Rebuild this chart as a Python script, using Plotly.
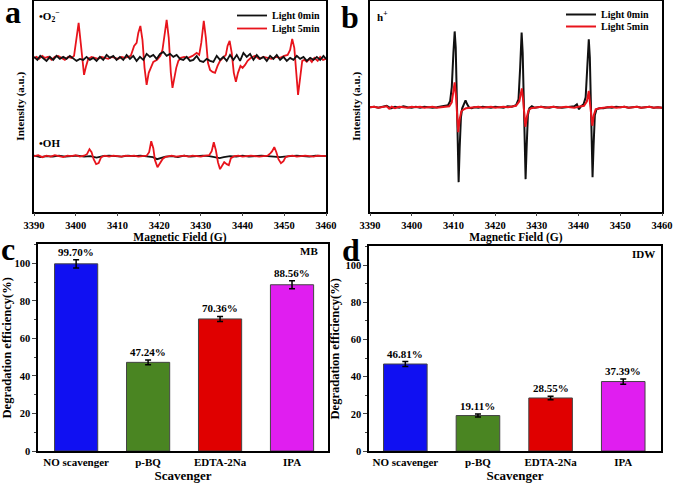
import plotly.graph_objects as go

W, H = 680, 486
FONT = "Liberation Serif"

# ---------------- Panel a: EPR (DMPO-•O2- and DMPO-•OH) ----------------
o2_red_field = [3390.0, 3390.6, 3391.2, 3392.0, 3392.6, 3393.4, 3394.2, 3395.0, 3395.8, 3396.6, 3397.4, 3398.2,
                3399.0, 3399.6, 3400.1, 3400.7, 3401.2, 3401.6, 3402.0, 3402.5, 3403.0, 3403.8, 3404.6, 3405.4,
                3406.2, 3407.0, 3407.8, 3408.6, 3409.4, 3410.2, 3411.0, 3411.8, 3412.5, 3413.2, 3414.0, 3414.6,
                3415.0, 3415.5, 3416.0, 3416.5, 3417.0, 3417.5, 3418.0, 3418.6, 3419.5, 3420.3, 3420.8, 3421.3,
                3421.8, 3422.3, 3422.8, 3423.2, 3423.6, 3424.1, 3424.6, 3425.2, 3426.0, 3427.0, 3428.0, 3429.0,
                3429.6, 3430.1, 3430.7, 3431.2, 3431.7, 3432.2, 3432.8, 3433.4, 3434.0, 3434.6, 3435.3, 3436.0,
                3436.4, 3436.9, 3437.4, 3437.9, 3438.4, 3438.9, 3439.5, 3440.0, 3440.6, 3441.2, 3442.0, 3443.0,
                3444.0, 3445.0, 3446.0, 3447.0, 3448.0, 3449.0, 3450.0, 3450.8, 3451.4, 3451.9, 3452.4, 3452.8,
                3453.3, 3453.8, 3454.3, 3454.8, 3455.4, 3456.0, 3456.6, 3457.2, 3458.0, 3458.6, 3459.3, 3460.0]
o2_red_int = [0, 1, -1, 2, 0, 1, -2, 1, 2, 0, -2, 1,
              0, 2, 18, 35, 15, -5, -17, -8, -1, 1, 0, -1,
              1, 0, -1, 1, 0, -1, 1, 0, 1, 2, 12, 15,
              25, 32, 18, -10, -27, -15, -10, -4, -2, 2, 8, 25,
              38, 20, -15, -30, -20, -10, -3, 0, 1, 0, 2, 5,
              3, 15, 37, 20, -5, -12, -14, -15, -8, -3, 0, 3,
              12, 17, 5, -15, -24, -15, -8, -10, -7, -3, 0, 2,
              -1, 1, 0, -1, 1, 0, 2, 3, 8, 19, 10, -15,
              -37, -20, -3, -2, -4, -1, -4, 0, -3, 1, -2, -1]

o2_black_field = [3390.0, 3390.8, 3391.5, 3392.3, 3393.0, 3393.8, 3394.6, 3395.4, 3396.2, 3397.0, 3397.8, 3398.6,
                  3399.4, 3400.2, 3401.0, 3401.8, 3402.6, 3403.4, 3404.2, 3405.0, 3405.8, 3406.6, 3407.4, 3408.2,
                  3409.0, 3409.8, 3410.6, 3411.4, 3412.2, 3413.0, 3413.8, 3414.6, 3415.4, 3416.2, 3417.0, 3417.8,
                  3418.6, 3419.4, 3420.2, 3421.0, 3421.8, 3422.6, 3423.4, 3424.2, 3425.0, 3425.8, 3426.6, 3427.4,
                  3428.2, 3429.0, 3429.8, 3430.6, 3431.4, 3432.2, 3433.0, 3433.8, 3434.6, 3435.4, 3436.2, 3437.0,
                  3437.8, 3438.6, 3439.4, 3440.2, 3441.0, 3441.8, 3442.6, 3443.4, 3444.2, 3445.0, 3445.8, 3446.6,
                  3447.4, 3448.2, 3449.0, 3449.8, 3450.6, 3451.4, 3452.2, 3453.0, 3453.8, 3454.6, 3455.4, 3456.2,
                  3457.0, 3457.8, 3458.6, 3459.4, 3460.0]
o2_black_int = [1, -2, 2, -1, -3, 1, -2, 2, -1, 1, -1, 2,
                -1, -3, -1, -2, 1, -2, 0, -3, 1, -2, 3, 0,
                2, -2, 1, -2, 3, -1, 2, -3, 1, -2, 4, 1,
                3, -1, 4, 6, 2, 4, 1, 3, -1, -2, 1, -3,
                -2, 2, -3, -4, -1, -3, -4, 2, -2, 1, -3, 3,
                -2, 3, -3, 5, 1, 4, -2, 3, -1, 1, -3, 2,
                -1, 3, -2, 1, -3, 0, -2, 2, -1, 1, -3, 0,
                -2, 1, -2, 2, -1]

oh_red_field = [3390, 3391, 3392, 3393, 3394, 3395, 3396, 3397, 3398, 3399, 3400, 3401, 3402, 3402.7, 3403.3,
                3403.8, 3404.3, 3404.9, 3405.5, 3406.1, 3407, 3408, 3409, 3410, 3411, 3412, 3413, 3414, 3415,
                3416, 3417, 3417.6, 3418.1, 3418.6, 3419.0, 3419.6, 3420.2, 3420.8, 3421.4, 3422.2, 3423, 3424,
                3425, 3426, 3427, 3428, 3429, 3430, 3431, 3432, 3432.6, 3433.1, 3433.6, 3434.1, 3434.6, 3435.1,
                3435.6, 3436.2, 3436.7, 3437.2, 3438, 3439, 3440, 3441, 3442, 3443, 3444, 3445, 3446, 3446.7,
                3447.1, 3447.6, 3448.1, 3448.6, 3449.2, 3449.8, 3450.3, 3451, 3452, 3453, 3454, 3455, 3456, 3457,
                3458, 3459, 3460]
oh_red_int = [0, 1, -1, 0.5, -0.5, 1, 0, -1, 0.5, 0, 1, -0.5, 0.5, 2, 7,
              4, -3, -8, -7, -1, 0.5, -0.5, 0.5, 0, -0.5, 0.5, 0, 0.5, -0.5,
              0, 0.5, 4, 15, 8, -4, -11, -7, -3, -1, 0, 0.5, -0.5,
              0, 0.5, -0.5, 0.5, 0, -0.5, 0.5, 1, 5, 14, 6, -6, -13, -9,
              -6, -8, -9, -2, 0, 0.5, -0.5, 0, 0.5, 0, -0.5, 0, 0.5, 3,
              5, 9, 4, -3, -7, -5, -1, 0, 0.5, -0.5, 0, 0.5, 0, -0.5,
              0.5, 0, 0]

oh_black_field = [3390, 3391.5, 3393, 3394.5, 3396, 3397.5, 3399, 3400.5, 3402, 3403.5, 3405, 3406.5, 3408,
                  3409.5, 3411, 3412.5, 3414, 3415.5, 3417, 3418.5, 3419.5, 3420.5, 3421.5, 3423, 3424.5, 3426,
                  3427.5, 3429, 3430.5, 3432, 3433.5, 3434.5, 3435.5, 3437, 3438.5, 3440, 3441.5, 3443, 3444.5,
                  3446, 3447.5, 3449, 3450, 3451.5, 3453, 3454.5, 3456, 3457.5, 3459, 3460]
oh_black_int = [0.5, -1, 0, -0.5, 0.5, -0.5, 0, 0.5, -0.5, 0, -1.5, 0, 0.5,
                0, -0.5, 0.5, 0, 0.5, 0, -1, -3, -2, -0.5, 0, -1, 0.5,
                -0.5, 0, 0.5, 0, -1, -2, -1, 0, -0.5, 0.5, -0.5, 0, 0.5,
                0, -0.5, -1, -0.5, 0, 0.5, 0, -0.5, 0.5, 0, 0]

O2_OFFSET = 154
OH_OFFSET = 55.5

# ---------------- Panel b: EPR (TEMPO, h+) ----------------
h_black_field = [3390, 3391, 3392, 3393, 3394, 3395, 3396, 3397, 3398, 3399, 3400, 3401, 3402, 3403, 3404, 3405,
                 3406, 3407, 3408, 3408.7, 3409.2, 3409.6, 3410.0, 3410.3, 3410.55, 3410.8, 3411.05, 3411.25,
                 3411.5, 3411.8, 3412.1, 3412.5, 3412.9, 3413.3, 3413.8, 3414.4, 3415, 3416, 3417, 3418, 3419,
                 3420, 3421, 3422, 3423, 3424, 3425, 3425.6, 3426.0, 3426.35, 3426.6, 3426.85, 3427.1, 3427.3,
                 3427.55, 3427.85, 3428.2, 3428.8, 3429.5, 3430, 3431, 3432, 3433, 3434, 3435, 3436, 3437, 3438,
                 3439, 3439.6, 3440.1, 3440.6, 3441.2, 3441.7, 3442.1, 3442.45, 3442.7, 3442.95, 3443.15, 3443.35,
                 3443.6, 3443.9, 3444.3, 3445, 3446, 3447, 3448, 3449, 3450, 3451, 3452, 3453, 3454, 3455, 3456,
                 3457, 3458, 3459, 3460]
h_black_int = [0, 0.5, -0.5, 0.5, 1.5, -1, 0.5, -0.5, 1, 0, -0.5, 0.5, -0.5, 0.5, 0, -0.5,
               0, 0.5, 1, 2, 6, 20, 55, 76, 60, 0, -60, -75,
               -40, -10, -1, 3, 7, 3, -0.5, -1, 0, -0.5, 0.5, 0, -0.5,
               0.5, 0, -0.5, 1, 0.5, 2, 8, 40, 75, 55, 0, -55, -72,
               -40, -8, -1, 1, -0.5, 0, 0.5, 0, -0.5, 0.5, 0, -0.5, 0, 0.5,
               1, 3, -2, 1, 3, 10, 40, 68, 50, 0, -50, -70,
               -38, -8, -2, -1, -1, 0, -0.5, 0.5, 0, 0.5, -0.5, 0, 0.5, -0.5, 0,
               0.5, -0.5, 0, -0.5]

h_red_field = [3390, 3391, 3392, 3393, 3394, 3394.6, 3395.2, 3396, 3397, 3398, 3399, 3400, 3401, 3402, 3403,
               3404, 3405, 3406, 3407, 3408, 3409, 3409.6, 3410.0, 3410.3, 3410.6, 3410.85, 3411.15, 3411.5,
               3411.9, 3412.5, 3413, 3414, 3415, 3416, 3417, 3418, 3419, 3420, 3421, 3422, 3423, 3424, 3425,
               3425.8, 3426.1, 3426.4, 3426.7, 3426.95, 3427.25, 3427.6, 3428, 3428.6, 3429.5, 3430, 3431, 3432,
               3433, 3434, 3435, 3436, 3437, 3438, 3439, 3440, 3441.3, 3442.0, 3442.45, 3442.7, 3443.0, 3443.3,
               3443.65, 3444.1, 3445, 3446, 3447, 3448, 3449, 3450, 3451, 3452, 3453, 3454, 3455, 3456, 3457,
               3458, 3459, 3460]
h_red_int = [0, 0.5, -0.5, 0, 1, -1.5, 0.5, -1, 0.5, 0, -0.5, 0.5, 0, 0.5, -0.5,
             0, 0.5, -0.5, 0, 0.5, 1, 5, 15, 25, 12, -10, -25, -12,
             -4, -2, -1, -0.5, 0, 0.5, -0.5, 0, 0.5, -0.5, 0, 0.5, 0, 0.5, 1.5,
             6, 12, 19, 8, -10, -19.5, -10, -3, -1, -0.5, 0, 0.5, -0.5,
             0, 0.5, -0.5, 0, 0.5, 0, -0.5, 0.5, 1.5, 6, 16.5, 6, -10, -18.5,
             -8, -2, -1, -0.5, 0, 0.5, -0.5, 0, 0.5, -0.5, 0, 0.5, -0.5, 0, 0.5,
             -0.5, 0, -0.5]
H_OFFSET = 104.5

# ---------------- Panels c, d: scavenger experiments ----------------
scavengers = ["NO scavenger", "p-BQ", "EDTA-2Na", "IPA"]
bar_colors = ["#1010f2", "#4a8522", "#e00000", "#e01ef0"]
mb_eff = [99.70, 47.24, 70.36, 88.56]
mb_err = [2.2, 1.3, 1.3, 2.1]
idw_eff = [46.81, 19.11, 28.55, 37.39]
idw_err = [1.3, 0.8, 0.9, 1.4]


def px(x):
    return x / W


def py(y):
    return 1 - y / H


fig = go.Figure()

RED = "#e8141c"
BLACK = "#111111"

# panel a traces
fig.add_trace(go.Scatter(x=o2_red_field, y=[v + O2_OFFSET for v in o2_red_int], mode="lines",
                         line=dict(color=RED, width=1.8), name="Light 5min",
                         legend="legend3", xaxis="x", yaxis="y"))
fig.add_trace(go.Scatter(x=o2_black_field, y=[v + O2_OFFSET for v in o2_black_int], mode="lines",
                         line=dict(color=BLACK, width=1.8), name="Light 0min",
                         legend="legend", xaxis="x", yaxis="y"))
fig.add_trace(go.Scatter(x=oh_black_field, y=[v + OH_OFFSET for v in oh_black_int], mode="lines",
                         line=dict(color=BLACK, width=1.8), showlegend=False, xaxis="x", yaxis="y"))
fig.add_trace(go.Scatter(x=oh_red_field, y=[v + OH_OFFSET for v in oh_red_int], mode="lines",
                         line=dict(color=RED, width=1.8), showlegend=False, xaxis="x", yaxis="y"))

# panel b traces
fig.add_trace(go.Scatter(x=h_black_field, y=[v + H_OFFSET for v in h_black_int], mode="lines",
                         line=dict(color=BLACK, width=2), name="Light 0min",
                         legend="legend2", xaxis="x2", yaxis="y2"))
fig.add_trace(go.Scatter(x=h_red_field, y=[v + H_OFFSET for v in h_red_int], mode="lines",
                         line=dict(color=RED, width=2), name="Light 5min",
                         legend="legend4", xaxis="x2", yaxis="y2"))

# panels c, d bars
for vals, errs, xa, ya in [(mb_eff, mb_err, "x3", "y3"), (idw_eff, idw_err, "x4", "y4")]:
    fig.add_trace(go.Bar(x=scavengers, y=vals, width=0.6,
                         marker=dict(color=bar_colors, line=dict(color="#444444", width=1)),
                         error_y=dict(type="data", array=errs, color="black", thickness=1.5, width=3),
                         showlegend=False, xaxis=xa, yaxis=ya))

bold = dict(family=FONT, weight="bold", color="black")

annotations = []
for vals, errs, xa, ya in [(mb_eff, mb_err, "x3", "y3"), (idw_eff, idw_err, "x4", "y4")]:
    for c, v, e in zip(scavengers, vals, errs):
        annotations.append(dict(x=c, y=v + e, xref=xa, yref=ya, text=f"{v:.2f}%", showarrow=False,
                                yanchor="bottom", yshift=0, font=dict(size=11, **bold)))

# panel letters (positioned by glyph location)
for t, x, y in [("a", 13, 11), ("b", 350, 16), ("c", 8, 249), ("d", 351, 250)]:
    annotations.append(dict(x=px(x), y=py(y), xref="paper", yref="paper", text=t, showarrow=False,
                            xanchor="center", yanchor="middle", font=dict(size=32, **bold)))

annotations += [
    dict(x=px(37), y=py(15), xref="paper", yref="paper", text="•O<sub>2</sub><sup>−</sup>", showarrow=False,
         xanchor="left", yanchor="middle", font=dict(size=11, **bold)),
    dict(x=px(37), y=py(142), xref="paper", yref="paper", text="•OH", showarrow=False,
         xanchor="left", yanchor="middle", font=dict(size=11, **bold)),
    dict(x=px(375), y=py(15), xref="paper", yref="paper", text="h<sup>+</sup>", showarrow=False,
         xanchor="left", yanchor="middle", font=dict(size=11, **bold)),
    dict(x=px(320), y=py(251), xref="paper", yref="paper", text="MB", showarrow=False,
         xanchor="right", yanchor="middle", font=dict(size=11, **bold)),
    dict(x=px(657), y=py(254), xref="paper", yref="paper", text="IDW", showarrow=False,
         xanchor="right", yanchor="middle", font=dict(size=11, **bold)),
]

axis_common = dict(showline=True, linecolor="black", linewidth=1.5, mirror=True, showgrid=False,
                   zeroline=False, automargin=False)

field_ticks = [3390, 3400, 3410, 3420, 3430, 3440, 3450, 3460]
eff_ticks = [0, 20, 40, 60, 80, 100]


def legend_at(x, y):
    return dict(x=px(x), y=py(y), xanchor="left", yanchor="top", bgcolor="rgba(0,0,0,0)",
                font=dict(size=10, **bold), itemwidth=30, tracegroupgap=0)


fig.update_layout(
    width=W, height=H, template="none",
    margin=dict(l=0, r=0, t=0, b=0),
    paper_bgcolor="white", plot_bgcolor="white",
    font=dict(family=FONT, color="black"),
    xaxis=dict(domain=[px(34), px(326)], anchor="y", range=[3390, 3460], tickvals=field_ticks,
               ticks="outside", ticklen=3, tickwidth=1.2, tickfont=dict(size=10.5, **bold),
               title=dict(text="Magnetic Field (G)", font=dict(size=11.5, **bold), standoff=0), **axis_common),
    yaxis=dict(domain=[py(211), 1.0], anchor="x", range=[0, 211], showticklabels=False, ticks="",
               title=dict(text="Intensity (a.u.)", font=dict(size=11, **bold), standoff=5), **axis_common),
    xaxis2=dict(domain=[px(370), px(662)], anchor="y2", range=[3390, 3460], tickvals=field_ticks,
                ticks="outside", ticklen=3, tickwidth=1.2, tickfont=dict(size=10.5, **bold),
                title=dict(text="Magnetic Field (G)", font=dict(size=11.5, **bold), standoff=0), **axis_common),
    yaxis2=dict(domain=[py(211), 1.0], anchor="x2", range=[0, 211], showticklabels=False, ticks="",
                title=dict(text="Intensity (a.u.)", font=dict(size=11, **bold), standoff=5), **axis_common),
    xaxis3=dict(domain=[px(38), px(328)], anchor="y3", range=[-0.53, 3.5], ticks="",
                tickfont=dict(size=11, **bold),
                title=dict(text="Scavenger", font=dict(size=13, **bold), standoff=0), **axis_common),
    yaxis3=dict(domain=[py(451), py(244)], anchor="x3", range=[0, 110], tickvals=eff_ticks,
                ticks="outside", ticklen=4, tickwidth=1.2, tickfont=dict(size=10.5, **bold),
                minor=dict(dtick=10, ticks="outside", ticklen=2.5, tickwidth=1),
                title=dict(text="Degradation efficiency(%)", font=dict(size=12.5, **bold), standoff=3),
                **axis_common),
    xaxis4=dict(domain=[px(369), px(661)], anchor="y4", range=[-0.5, 3.52], ticks="",
                tickfont=dict(size=11, **bold),
                title=dict(text="Scavenger", font=dict(size=13, **bold), standoff=0), **axis_common),
    yaxis4=dict(domain=[py(451), py(246)], anchor="x4", range=[0, 110], tickvals=eff_ticks,
                ticks="outside", ticklen=4, tickwidth=1.2, tickfont=dict(size=10.5, **bold),
                minor=dict(dtick=10, ticks="outside", ticklen=2.5, tickwidth=1),
                title=dict(text="Degradation efficiency(%)", font=dict(size=12.5, **bold), standoff=3),
                **axis_common),
    legend=legend_at(232, 1),
    legend3=legend_at(232, 14),
    legend2=legend_at(561, -1),
    legend4=legend_at(561, 12),
    annotations=annotations,
)

fig.write_html("out.html")
